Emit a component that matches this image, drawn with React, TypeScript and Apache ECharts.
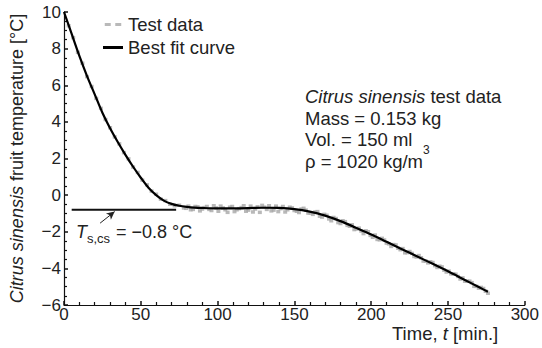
import React, { useEffect, useRef } from "react";
import * as echarts from "echarts";

// Best fit curve (time [min], temperature [°C])
const fitTime = [0, 5, 10, 15, 20, 25, 30, 35, 40, 45, 50, 55, 60, 65, 70, 75, 80, 85, 90, 100, 110, 120, 130, 140, 150, 160, 170, 180, 190, 200, 210, 220, 230, 240, 250, 260, 270, 276];
const fitTemp = [10.0, 8.8, 7.6, 6.5, 5.5, 4.5, 3.65, 2.9, 2.2, 1.55, 0.95, 0.4, 0.0, -0.3, -0.48, -0.58, -0.64, -0.68, -0.7, -0.72, -0.72, -0.71, -0.69, -0.7, -0.76, -0.9, -1.12, -1.42, -1.78, -2.15, -2.55, -2.95, -3.35, -3.75, -4.16, -4.59, -5.02, -5.28];

// Test data, first set of readings (time [min], temperature [°C])
const testTimeA = [0, 3, 6, 9, 12, 15, 18, 21, 24, 27, 30, 33, 36, 39, 42, 45, 48, 51, 54, 57, 60, 63, 66, 69, 72, 75, 78, 81, 84, 87, 90, 93, 96, 99, 102, 105, 108, 111, 114, 117, 120, 123, 126, 129, 132, 135, 138, 141, 144, 147, 150, 153, 156, 159, 162, 165, 168, 171, 174, 177, 180, 183, 186, 189, 192, 195, 198, 201, 204, 207, 210, 213, 216, 219, 222, 225, 228, 231, 234, 237, 240, 243, 246, 249, 252, 255, 258, 261, 264, 267, 270, 273, 276];
const testTempA = [10.02, 9.25, 8.6, 7.8, 7.2, 6.47, 5.93, 5.28, 4.74, 4.13, 3.68, 3.18, 2.8, 2.32, 1.98, 1.53, 1.24, 0.82, 0.56, 0.22, 0.05, -0.22, -0.3, -0.5, -0.58, -0.55, -0.7, -0.6, -0.78, -0.64, -0.76, -0.62, -0.84, -0.7, -0.6, -0.8, -0.66, -0.9, -0.74, -0.58, -0.82, -0.92, -0.64, -0.56, -0.78, -0.86, -0.6, -0.74, -0.92, -0.66, -0.84, -0.95, -0.72, -0.98, -1.05, -0.9, -1.2, -1.1, -1.4, -1.28, -1.55, -1.45, -1.7, -1.88, -1.8, -2.1, -2.0, -2.3, -2.42, -2.36, -2.62, -2.8, -2.72, -2.98, -3.15, -3.08, -3.35, -3.3, -3.6, -3.7, -3.68, -3.95, -3.92, -4.2, -4.3, -4.32, -4.58, -4.7, -4.7, -4.98, -5.08, -5.1, -5.36];

// Test data, second set of readings (time [min], temperature [°C])
const testTimeB = [79.5, 82.5, 85.5, 88.5, 91.5, 94.5, 97.5, 100.5, 103.5, 106.5, 109.5, 112.5, 115.5, 118.5, 121.5, 124.5, 127.5, 130.5, 133.5, 136.5, 139.5, 142.5, 145.5, 148.5, 151.5, 154.5, 157.5, 160.5, 163.5, 166.5, 169.5, 172.5, 175.5, 178.5, 181.5, 184.5, 187.5, 190.5, 193.5, 196.5, 199.5, 202.5, 205.5, 208.5, 211.5, 214.5, 217.5, 220.5, 223.5, 226.5, 229.5, 232.5, 235.5, 238.5, 241.5, 244.5, 247.5, 250.5, 253.5, 256.5, 259.5, 262.5, 265.5, 268.5, 271.5, 274.5];
const testTempB = [-0.72, -0.8, -0.62, -0.86, -0.68, -0.78, -0.58, -0.88, -0.7, -0.94, -0.62, -0.8, -0.68, -0.88, -0.6, -0.76, -0.94, -0.66, -0.58, -0.82, -0.9, -0.62, -0.8, -0.7, -0.88, -0.76, -0.82, -0.98, -0.92, -1.15, -1.05, -1.3, -1.22, -1.5, -1.4, -1.65, -1.62, -1.85, -1.96, -1.95, -2.2, -2.18, -2.44, -2.45, -2.66, -2.7, -2.9, -2.92, -3.14, -3.18, -3.38, -3.42, -3.6, -3.64, -3.85, -3.88, -4.1, -4.15, -4.3, -4.44, -4.52, -4.7, -4.78, -4.98, -5.04, -5.25];

// Supercooling temperature marker line
const tsTime = [5, 73];
const tsValue = -0.8;
// Arrow pointing to the marker line
const arrowFrom = [23.5, -1.53];
const arrowTo = [33, -0.9];

const FONT = "'Liberation Sans', Arial, Helvetica, sans-serif";
const TXT = "#222";

export default function App() {
  const ref = useRef<HTMLDivElement>(null);

  useEffect(() => {
    if (!ref.current) return;
    const chart = echarts.init(ref.current, undefined, { renderer: "svg" });

    const fitData = fitTime.map((t, i) => [t, fitTemp[i]]);
    const testData = testTimeA
      .map((t, i) => [t, testTempA[i]])
      .concat(testTimeB.map((t, i) => [t, testTempB[i]]));
    const tsData = tsTime.map((t) => [t, tsValue]);
    const minus = (v: number) => String(v).replace("-", "\u2212");

    chart.setOption({
      animation: false,
      textStyle: { fontFamily: FONT },
      grid: { left: 64, right: 16, top: 12, bottom: 43 },
      legend: {
        orient: "vertical",
        left: 98,
        top: 10,
        itemGap: 4,
        itemWidth: 20,
        itemHeight: 3,
        textStyle: { fontSize: 18.5, color: TXT, fontFamily: FONT },
        data: [
          { name: "Test data", icon: "path://M0,0h4v2h-4zM7,0h4v2h-4z", itemStyle: { color: "#a8a8a8" } },
          { name: "Best fit curve", icon: "rect", itemStyle: { color: "#000" } },
        ],
      },
      xAxis: {
        type: "value",
        min: 0,
        max: 300,
        interval: 50,
        axisLine: { show: true, onZero: false, lineStyle: { color: "#111", width: 1.2 } },
        axisTick: { show: true, inside: true, length: 4, lineStyle: { color: "#111", width: 1.5 } },
        minorTick: { show: true, splitNumber: 5, length: 3, lineStyle: { color: "#111", width: 1.2 } },
        axisLabel: { fontSize: 17, color: TXT, margin: 1, fontFamily: FONT },
        splitLine: { show: false },
      },
      yAxis: {
        type: "value",
        min: -6,
        max: 10,
        interval: 2,
        name: "{i|Citrus sinensis} fruit temperature [°C]",
        nameLocation: "middle",
        nameGap: 38,
        nameTextStyle: {
          fontSize: 18,
          color: TXT,
          fontFamily: FONT,
          rich: { i: { fontStyle: "italic", fontSize: 18, color: TXT, fontFamily: FONT } },
        },
        axisLine: { show: true, onZero: false, lineStyle: { color: "#111", width: 1.2 } },
        axisTick: { show: true, inside: true, length: 4, lineStyle: { color: "#111", width: 1.5 } },
        minorTick: { show: true, splitNumber: 4, length: 3, lineStyle: { color: "#111", width: 1.2 } },
        axisLabel: { fontSize: 17, color: TXT, margin: 3, fontFamily: FONT, formatter: minus },
        splitLine: { show: false },
      },
      series: [
        {
          name: "Test data",
          type: "scatter",
          data: testData,
          symbol: "rect",
          symbolSize: [4, 3.5],
          itemStyle: { color: "#a8a8a8" },
          z: 2,
        },
        {
          name: "Best fit curve",
          type: "line",
          data: fitData,
          smooth: 0.3,
          showSymbol: false,
          lineStyle: { color: "#000", width: 2.2 },
          z: 3,
        },
        {
          name: "Ts",
          type: "line",
          data: tsData,
          showSymbol: false,
          lineStyle: { color: "#111", width: 2 },
          z: 4,
          markLine: {
            silent: true,
            symbol: ["none", "arrow"],
            symbolSize: [6, 8],
            label: { show: false },
            lineStyle: { color: "#222", width: 1, type: "solid" },
            data: [[{ coord: arrowFrom }, { coord: arrowTo }]],
          },
        },
      ],
      graphic: [
        {
          type: "text",
          x: 305,
          y: 96.5,
          style: {
            text: "{i|Citrus sinensis} test data",
            verticalAlign: "middle",
            fontSize: 18.5,
            fontFamily: FONT,
            fill: TXT,
            rich: { i: { fontStyle: "italic", fontSize: 18.5, fontFamily: FONT, fill: TXT } },
          },
        },
        { type: "text", x: 305, y: 118, style: { text: "Mass = 0.153 kg", verticalAlign: "middle", fontSize: 18.5, fontFamily: FONT, fill: TXT } },
        { type: "text", x: 305, y: 139.5, style: { text: "Vol. = 150 ml", verticalAlign: "middle", fontSize: 18.5, fontFamily: FONT, fill: TXT } },
        { type: "text", x: 305, y: 161, style: { text: "ρ = 1020 kg/m", verticalAlign: "middle", fontSize: 18.5, fontFamily: FONT, fill: TXT } },
        { type: "text", x: 423, y: 149.5, style: { text: "3", verticalAlign: "middle", fontSize: 12, fontFamily: FONT, fill: TXT } },
        { type: "text", x: 76, y: 232, style: { text: "T", verticalAlign: "middle", fontSize: 18, fontStyle: "italic", fontFamily: FONT, fill: TXT } },
        { type: "text", x: 87, y: 238, style: { text: "s,cs", verticalAlign: "middle", fontSize: 13, fontFamily: FONT, fill: TXT } },
        { type: "text", x: 111, y: 232, style: { text: " = \u22120.8 °C", verticalAlign: "middle", fontSize: 18, fontFamily: FONT, fill: TXT } },
        {
          type: "text",
          x: 392,
          y: 333,
          style: {
            text: "Time, {i|t} [min.]",
            verticalAlign: "middle",
            fontSize: 18.5,
            fontFamily: FONT,
            fill: TXT,
            rich: { i: { fontStyle: "italic", fontSize: 18.5, fontFamily: FONT, fill: TXT } },
          },
        },
      ],
    });

    return () => chart.dispose();
  }, []);

  return <div ref={ref} style={{ position: "fixed", left: 0, top: 0, width: 542, height: 348, background: "#fff" }} />;
}
